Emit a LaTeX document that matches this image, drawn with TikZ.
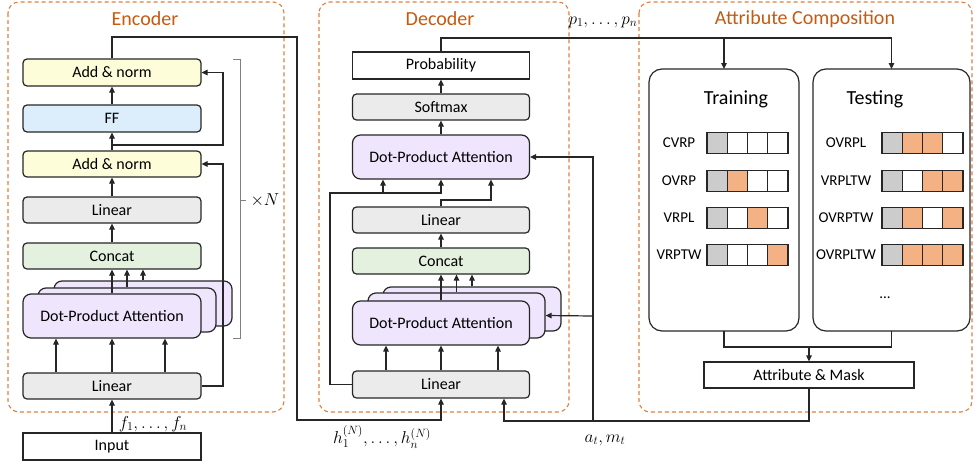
\documentclass[tikz,border=0pt]{standalone}
\usepackage{fontspec}
\setmainfont{Carlito}
\usetikzlibrary{arrows.meta,calc}
\definecolor{frameor}{HTML}{E0803F}
\definecolor{titleor}{HTML}{C55A11}
\definecolor{fillyel}{HTML}{FDFDD9}
\definecolor{fillblu}{HTML}{DCEEFB}
\definecolor{fillgry}{HTML}{EBEBEB}
\definecolor{fillgrn}{HTML}{E5F1DF}
\definecolor{fillvio}{HTML}{EFE5FC}
\definecolor{cellg}{HTML}{CCCCCC}
\definecolor{cello}{HTML}{F4B183}
\definecolor{edge}{HTML}{262626}
\tikzset{
  box/.style={draw=edge, line width=1.2pt, rounded corners=4pt, minimum width=178pt,
    minimum height=26pt, inner sep=0pt, font=\fontsize{16}{18}\selectfont},
  sqbox/.style={box, rounded corners=0pt, fill=white},
  attbox/.style={box, rounded corners=8pt, fill=fillvio, minimum height=44pt},
  panel/.style={draw=edge, line width=1.2pt, rounded corners=13pt},
  frame/.style={draw=frameor, line width=1.1pt, dash pattern=on 4pt off 3pt, rounded corners=11pt},
  ftitle/.style={text=titleor, font=\fontsize{20}{22}\selectfont},
  ptitle/.style={font=\fontsize{20}{22}\selectfont},
  arr/.style={draw=edge, line width=1.2pt, -{Triangle[length=6pt,width=5.5pt]}},
  ln/.style={draw=edge, line width=1.2pt},
  cell/.style={draw=edge, line width=1.2pt, minimum width=20.25pt, minimum height=21pt, inner sep=0pt},
  rowlab/.style={font=\fontsize{15}{17}\selectfont},
  mlab/.style={font=\fontsize{17}{19}\selectfont},
}
\begin{document}
\begin{tikzpicture}[x=1pt,y=-1pt]
\useasboundingbox (0,0) rectangle (974,463);

% dashed group frames and their titles
\draw[frame] (8,2) rectangle (284,412);
\draw[frame] (319,2) rectangle (569,412);
\draw[frame] (639,2) rectangle (972,412);
\node[ftitle] (enctitle) at (145,19) {Encoder};
\node[ftitle] (dectitle) at (440,19) {Decoder};
\node[ftitle] (attrtitle) at (805,19) {Attribute Composition};

% ---------------- Encoder ----------------
\node[box, fill=fillyel, minimum height=27pt] (ean2) at (112,72.5) {Add \& norm};
\node[box, fill=fillblu, minimum height=27pt] (eff) at (112,118.5) {FF};
\node[box, fill=fillyel] (ean1) at (112,164) {Add \& norm};
\node[box, fill=fillgry] (elin) at (112,210) {Linear};
\node[box, fill=fillgrn] (ecat) at (112,256) {Concat};
\node[attbox, minimum height=45pt] (eatt3) at (143,303.5) {};
\node[attbox] (eatt2) at (127,310) {};
\node[attbox] (eatt1) at (112,316) {Dot-Product Attention};
\node[box, fill=fillgry] (elin0) at (112,386) {Linear};
\node[sqbox, minimum height=27pt] (input) at (112,446.5) {Input};

\draw[arr] (input) -- (elin0);
\foreach \dx in {-56,0,53}
  \draw[arr] ([xshift=\dx pt]elin0.north) -- ([xshift=\dx pt]eatt1.south);
\draw[arr] (eatt1.north) -- (eatt1.north |- ecat.south);
\draw[arr] (eatt2.north) -- (eatt2.north |- ecat.south);
\draw[arr] (eatt3.north) -- (eatt3.north |- ecat.south);
\draw[arr] (ecat) -- (elin);
\draw[arr] (elin) -- (ean1);
\draw[arr] (ean1) -- (eff);
\draw[arr] (eff) -- (ean2);
% residual connections
\draw[arr] (elin0.east) -- (223,386) |- (ean1.east);
\coordinate (esplit) at (112,145);
\draw[arr] (esplit) -- (223,145) |- (ean2.east);
% repetition bracket
\draw[gray, line width=0.8pt] (233,59) -- (240,59) -- (240,338) -- (233,338);
\draw[gray, line width=0.8pt] (240,200) -- (246,200);
\node[mlab, anchor=west] (xn) at (247,200) {$\times N$};

% ---------------- Decoder ----------------
\node[sqbox, minimum width=177pt, minimum height=27pt] (prob) at (441,65.5) {Probability};
\node[box, fill=fillgry, minimum width=177pt] (soft) at (441,107) {Softmax};
\node[attbox, minimum width=177pt] (datt) at (441,157) {Dot-Product Attention};
\node[box, fill=fillgry, minimum width=177pt] (dlin) at (441,220) {Linear};
\node[box, fill=fillgrn, minimum width=177pt] (dcat) at (441,261) {Concat};
\node[attbox, minimum width=178pt] (datt3) at (472,309) {};
\node[attbox, minimum width=177pt, minimum height=45pt] (datt2) at (456.5,315.5) {};
\node[attbox, minimum width=177pt] (datt1) at (441,323) {Dot-Product Attention};
\node[box, fill=fillgry, minimum width=177pt, minimum height=27pt] (dlin0) at (441,384.5) {Linear};

\foreach \dx in {-55,0,57}
  \draw[arr] ([xshift=\dx pt]dlin0.north) -- ([xshift=\dx pt]datt1.south);
\draw[arr] (datt1.north) -- (datt1.north |- dcat.south);
\draw[arr] (datt2.north) -- (datt2.north |- dcat.south);
\draw[arr] (datt3.north) -- (datt3.north |- dcat.south);
\draw[arr] (dcat) -- (dlin);
\draw[arr] (dlin.north) -- (441,200) -| ([xshift=50pt]datt.south);
\coordinate (dbend) at (330,193);
\draw[arr] (dlin0.west) -| (dbend) -- (datt.south |- dbend) -- (datt.south);
\draw[arr] ([xshift=-58pt]datt.south |- dbend) -- ([xshift=-58pt]datt.south);
\draw[arr] (datt) -- (soft);
\draw[arr] (soft) -- (prob);

% encoder output into the decoder
\draw[arr] (ean2.north) -- (112,37) -- (297,37) -- (297,420) -| (dlin0.south);

% ---------------- Attribute Composition ----------------
\draw[panel] (649,69) rectangle (799,331);
\draw[panel] (813,69) rectangle (970,331);
\coordinate (trtop) at (724,69);
\coordinate (tetop) at (891.5,69);
\coordinate (trbot) at (724,331);
\coordinate (tebot) at (891.5,331);
\node[ptitle] (trtitle) at (736,99) {Training};
\node[ptitle] (tetitle) at (875,99) {Testing};

% attribute vectors: first cell is the base problem, orange cells are active attributes
\foreach \lab/\y/\cs [count=\i] in {CVRP/143/{cellg,white,white,white}, OVRP/181/{cellg,cello,white,white}, VRPL/218/{cellg,white,cello,white}, VRPTW/255/{cellg,white,white,cello}} {
  \node[rowlab] (trl\i) at (679,\y) {\lab};
  \foreach \cf [count=\j] in \cs
    \node[cell, fill=\cf] (trc\i\j) at ({707+20.25*(\j-0.5)},\y) {};
}
\foreach \lab/\y/\cs [count=\i] in {OVRPL/143/{cellg,cello,cello,white}, VRPLTW/181/{cellg,white,cello,cello}, OVRPTW/218/{cellg,cello,white,cello}, OVRPLTW/255/{cellg,cello,cello,cello}} {
  \node[rowlab] (tel\i) at (846,\y) {\lab};
  \foreach \cf [count=\j] in \cs
    \node[cell, fill=\cf] (tec\i\j) at ({882+20.25*(\j-0.5)},\y) {};
}
\node[rowlab] (tedots) at (885,298) {...};

\node[sqbox, minimum width=210pt] (am) at (809,375) {Attribute \& Mask};
\draw[ln] (trbot) -- (724,347) -- (891.5,347) -- (tebot);
\draw[arr] (809,347) -- (am.north);

% probability feedback into both panels
\draw[arr] (prob.north) -- (441,38) -| (tetop);
\draw[arr] (724,38) -- (trtop);

% attribute & mask into the decoder
\draw[arr] (am.south) -- (809,421) -| ([xshift=63pt]dlin0.south);
\coordinate (amsplit) at (593,421);
\draw[arr] (amsplit) |- (datt.east);
\draw[arr] (593,316) -- (datt2.east);

% math labels
\node[mlab] (flab) at (153,424) {$f_1,\ldots,f_n$};
\node[mlab] (plab) at (603,22) {$p_1,\ldots,p_n$};
\node[mlab] (hlab) at (382,437) {$h_1^{(N)},\ldots,h_n^{(N)}$};
\node[mlab] (alab) at (605,440) {$a_t,m_t$};
\end{tikzpicture}
\end{document}
